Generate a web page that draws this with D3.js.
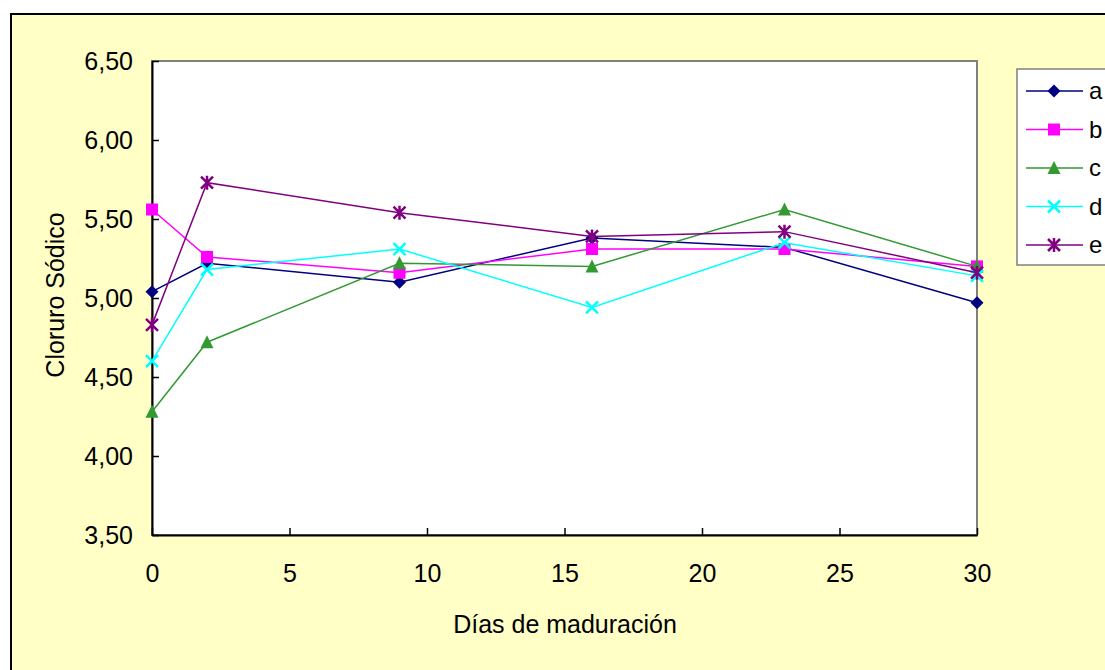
<!DOCTYPE html>
<html>
<head>
<meta charset="utf-8">
<script src="https://cdn.jsdelivr.net/npm/d3@7"></script>
<style>
  body { margin: 0; background: #fff; }
  svg { display: block; font-family: "Liberation Sans", Arial, sans-serif; }
</style>
</head>
<body>
<div id="chart"></div>
<script>
// days of ripening
var dias = [0, 2, 9, 16, 23, 30];
var a = [5.04, 5.22, 5.10, 5.38, 5.32, 4.97];
var b = [5.56, 5.26, 5.16, 5.31, 5.31, 5.20];
var c = [4.28, 4.72, 5.22, 5.20, 5.56, 5.20];
var d = [4.60, 5.18, 5.31, 4.94, 5.35, 5.14];
var e = [4.83, 5.73, 5.54, 5.39, 5.42, 5.16];
var seriesNames = ["a", "b", "c", "d", "e"];
var yTicks = [3.5, 4.0, 4.5, 5.0, 5.5, 6.0, 6.5];
var xTicks = [0, 5, 10, 15, 20, 25, 30];

var width = 1105, height = 670;
var svg = d3.select("#chart").append("svg")
    .attr("width", width)
    .attr("height", height);

// chart area background + outer border
svg.append("rect")
    .attr("x", 11).attr("y", 14)
    .attr("width", width + 20).attr("height", height + 20)
    .attr("fill", "#ffffc6")
    .attr("stroke", "#000").attr("stroke-width", 2);

var pLeft = 152, pTop = 61, pRight = 977, pBottom = 535;
var x = d3.scaleLinear().domain([0, 30]).range([pLeft, pRight]);
var y = d3.scaleLinear().domain([3.5, 6.5]).range([pBottom, pTop]);

svg.append("rect")
    .attr("x", pLeft).attr("y", pTop)
    .attr("width", pRight - pLeft).attr("height", pBottom - pTop)
    .attr("fill", "#fff")
    .attr("stroke", "#808080").attr("stroke-width", 2);

// axes
var yAxis = d3.axisLeft(y).tickValues(yTicks).tickSizeInner(-7).tickSizeOuter(0)
    .tickPadding(19)
    .tickFormat(function(v) { return d3.format(".2f")(v).replace(".", ","); });
var gy = svg.append("g").attr("transform", "translate(" + pLeft + ",0)").call(yAxis);

var xAxis = d3.axisBottom(x).tickValues(xTicks).tickSizeInner(-7).tickSizeOuter(0)
    .tickPadding(29);
var gx = svg.append("g").attr("transform", "translate(0," + pBottom + ")").call(xAxis);

[gx, gy].forEach(function(g) {
    g.attr("font-size", null).attr("font-family", null);
    g.select(".domain").attr("stroke", "#000").attr("stroke-width", 2);
    g.selectAll(".tick line").attr("stroke", "#000").attr("stroke-width", 1.5);
    g.selectAll(".tick text").style("font-size", "25px").attr("fill", "#000");
});

// axis titles
svg.append("text")
    .attr("transform", "translate(64," + 295 + ") rotate(-90)")
    .attr("text-anchor", "middle")
    .style("font-size", "25px")
    .text("Cloruro Sódico");

svg.append("text")
    .attr("x", 565).attr("y", 633)
    .attr("text-anchor", "middle")
    .style("font-size", "25px")
    .text("Días de maduración");

var colors = ["#000080", "#ff00ff", "#339933", "#00ffff", "#800080"];
var data = [a, b, c, d, e];

function marker(g, k, cx, cy) {
    var col = colors[k];
    if (k === 0) {
        g.append("path").attr("d", "M" + cx + "," + (cy - 6.5) + "L" + (cx + 6.5) + "," + cy +
            "L" + cx + "," + (cy + 6.5) + "L" + (cx - 6.5) + "," + cy + "Z").attr("fill", col);
    } else if (k === 1) {
        g.append("rect").attr("x", cx - 6).attr("y", cy - 6).attr("width", 12).attr("height", 12).attr("fill", col);
    } else if (k === 2) {
        g.append("path").attr("d", "M" + cx + "," + (cy - 7) + "L" + (cx + 6.5) + "," + (cy + 6) +
            "L" + (cx - 6.5) + "," + (cy + 6) + "Z").attr("fill", col);
    } else if (k === 3) {
        g.append("path").attr("d", "M" + (cx - 6) + "," + (cy - 6) + "L" + (cx + 6) + "," + (cy + 6) +
            "M" + (cx + 6) + "," + (cy - 6) + "L" + (cx - 6) + "," + (cy + 6))
            .attr("stroke", col).attr("stroke-width", 2.5).attr("fill", "none");
    } else {
        g.append("path").attr("d", "M" + (cx - 6) + "," + (cy - 6) + "L" + (cx + 6) + "," + (cy + 6) +
            "M" + (cx + 6) + "," + (cy - 6) + "L" + (cx - 6) + "," + (cy + 6) +
            "M" + cx + "," + (cy - 7) + "L" + cx + "," + (cy + 7))
            .attr("stroke", col).attr("stroke-width", 2.5).attr("fill", "none");
    }
}

var line = d3.line()
    .x(function(v, i) { return x(dias[i]); })
    .y(function(v) { return y(v); });

data.forEach(function(vals, k) {
    var g = svg.append("g");
    g.append("path").datum(vals)
        .attr("d", line)
        .attr("fill", "none")
        .attr("stroke", colors[k])
        .attr("stroke-width", 1.5);
    vals.forEach(function(v, i) {
        marker(g, k, x(dias[i]), y(v));
    });
});

// legend
var lg = svg.append("g");
lg.append("rect")
    .attr("x", 1017).attr("y", 69)
    .attr("width", 120).attr("height", 196)
    .attr("fill", "#fff").attr("stroke", "#808080").attr("stroke-width", 1.5);
seriesNames.forEach(function(n, k) {
    var ly = 91 + k * 38.5;
    lg.append("line").attr("x1", 1026).attr("x2", 1083).attr("y1", ly).attr("y2", ly)
        .attr("stroke", colors[k]).attr("stroke-width", 1.5);
    marker(lg, k, 1054, ly);
    lg.append("text").attr("x", 1089).attr("y", ly + 8).style("font-size", "24px").text(n);
});
</script>
</body>
</html>
